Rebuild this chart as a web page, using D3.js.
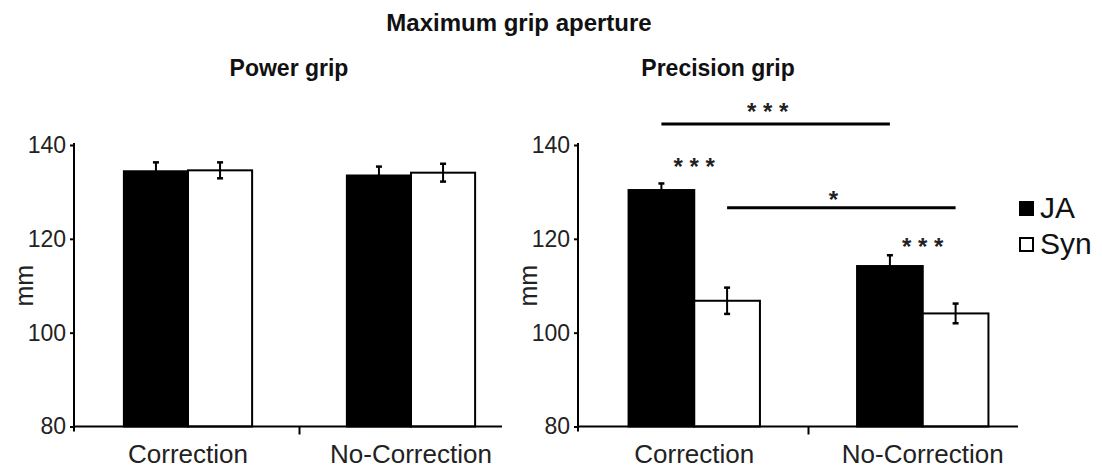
<!DOCTYPE html>
<html>
<head>
<meta charset="utf-8">
<script src="https://cdnjs.cloudflare.com/ajax/libs/d3/7.8.5/d3.min.js"></script>
<style>
  html, body { margin: 0; padding: 0; background: #fff; }
  svg { display: block; }
  text { font-family: "Liberation Sans", Arial, Helvetica, sans-serif; }
</style>
</head>
<body>
<svg id="chart" width="1102" height="470"></svg>
<script>
// ---- data ----
const categories = ["Correction", "No-Correction"];
const series = ["JA", "Syn"];
const yTicks = [80, 100, 120, 140];

const powerJA = [134.4, 133.5];
const powerSyn = [134.6, 134.1];
const powerJAErr = [1.9, 1.9];
const powerSynErr = [1.7, 1.9];

const precJA = [130.4, 114.2];
const precSyn = [106.8, 104.1];
const precJAErr = [1.4, 2.3];
const precSynErr = [2.8, 2.1];

// within-category JA vs Syn stars (precision grip): [category, label, level in mm]
const precPairStars = [["Correction", "* * *", 136.3], ["No-Correction", "* * *", 119.3]];
// between-category brackets (precision grip): [series, label, line level, label level]
const precBrackets = [["JA", "* * *", 144.5, 148.2], ["Syn", "*", 126.6, 129.4]];

const titleMain = "Maximum grip aperture";
const panelTitles = ["Power grip", "Precision grip"];
const yLabel = "mm";

// ---- layout ----
const svg = d3.select("#chart");
const ink = "#111";
const yTop = 145, yBot = 426.5;

const panels = [
  { title: panelTitles[0], ja: powerJA, syn: powerSyn, jaErr: powerJAErr, synErr: powerSynErr,
    axisX: 74, bandStart: 76.5, bandEnd: 522.5, lineEnd: 502, titleX: 289, stars: [], brackets: [] },
  { title: panelTitles[1], ja: precJA, syn: precSyn, jaErr: precJAErr, synErr: precSynErr,
    axisX: 578, bandStart: 580, bandEnd: 1037, lineEnd: 1018, titleX: 718, stars: precPairStars, brackets: precBrackets }
];

const y = d3.scaleLinear().domain([80, 140]).range([yBot, yTop]);

svg.append("text")
  .attr("x", 519).attr("y", 31)
  .attr("text-anchor", "middle")
  .attr("font-size", 24).attr("font-weight", "bold").attr("fill", ink)
  .text(titleMain);

panels.forEach(p => {
  const g = svg.append("g");
  const x = d3.scaleBand().domain(categories).range([p.bandStart, p.bandEnd]).padding(0);
  const groupW = x.bandwidth() * 0.575;
  const xs = d3.scaleBand().domain(series).range([-groupW / 2, groupW / 2]).padding(0);

  // panel title
  g.append("text")
    .attr("x", p.titleX).attr("y", 76)
    .attr("text-anchor", "middle")
    .attr("font-size", 23).attr("font-weight", "bold").attr("fill", ink)
    .text(p.title);

  // bars
  const rows = [];
  categories.forEach((c, i) => {
    rows.push({ c, s: "JA", v: p.ja[i], e: p.jaErr[i] });
    rows.push({ c, s: "Syn", v: p.syn[i], e: p.synErr[i] });
  });
  const cx = d => x(d.c) + x.bandwidth() / 2 + xs(d.s);

  g.selectAll("rect.bar").data(rows).enter().append("rect")
    .attr("class", "bar")
    .attr("x", d => cx(d))
    .attr("y", d => y(d.v))
    .attr("width", xs.bandwidth())
    .attr("height", d => y(80) - y(d.v))
    .attr("fill", d => d.s === "JA" ? "#000" : "#fff")
    .attr("stroke", "#000").attr("stroke-width", 2);

  // error bars
  const eb = g.selectAll("g.err").data(rows).enter().append("g").attr("class", "err");
  const mid = d => cx(d) + xs.bandwidth() / 2;
  eb.append("line")
    .attr("x1", mid).attr("x2", mid)
    .attr("y1", d => y(d.v + d.e)).attr("y2", d => y(d.v - d.e))
    .attr("stroke", "#000").attr("stroke-width", 2);
  [1, -1].forEach(sgn => {
    eb.append("line")
      .attr("x1", d => mid(d) - 3).attr("x2", d => mid(d) + 3)
      .attr("y1", d => y(d.v + sgn * d.e)).attr("y2", d => y(d.v + sgn * d.e))
      .attr("stroke", "#000").attr("stroke-width", 2.5);
  });

  // y axis
  const ya = g.append("g").attr("transform", `translate(${p.axisX},0)`)
    .call(d3.axisLeft(y).tickValues(yTicks).tickSize(4).tickSizeOuter(0).tickPadding(4));
  ya.select(".domain").remove();
  ya.selectAll(".tick line").attr("stroke", "#000").attr("stroke-width", 2);
  ya.selectAll(".tick text")
    .attr("font-size", 23).attr("fill", "#222")
    .attr("font-family", "Liberation Sans, Arial, sans-serif");
  g.append("line")
    .attr("x1", p.axisX).attr("x2", p.axisX)
    .attr("y1", y(140) - 2).attr("y2", y(80) + 5)
    .attr("stroke", "#000").attr("stroke-width", 2);

  // y label
  g.append("text")
    .attr("transform", `translate(${p.axisX - 41},${(yTop + yBot) / 2}) rotate(-90)`)
    .attr("text-anchor", "middle")
    .attr("font-size", 25).attr("fill", "#222")
    .text(yLabel);

  // x baseline and separator tick
  g.append("line")
    .attr("x1", p.axisX).attr("x2", p.lineEnd)
    .attr("y1", y(80)).attr("y2", y(80))
    .attr("stroke", "#000").attr("stroke-width", 2);
  const sepX = x(categories[1]);
  g.append("line")
    .attr("x1", sepX).attr("x2", sepX)
    .attr("y1", y(80)).attr("y2", y(80) + 8)
    .attr("stroke", "#000").attr("stroke-width", 2);

  // x labels
  g.selectAll("text.cat").data(categories).enter().append("text")
    .attr("class", "cat")
    .attr("x", c => x(c) + x.bandwidth() / 2)
    .attr("y", 463)
    .attr("text-anchor", "middle")
    .attr("font-size", 26).attr("fill", "#222")
    .text(c => c);

  // significance stars within category
  p.stars.forEach(([c, lab, lvl]) => {
    g.append("text")
      .attr("x", x(c) + x.bandwidth() / 2)
      .attr("y", y(lvl) + 13)
      .attr("text-anchor", "middle")
      .attr("font-size", 24).attr("font-weight", "bold").attr("fill", "#222")
      .text(lab);
  });

  // brackets between categories
  p.brackets.forEach(([s, lab, lvl, labLvl]) => {
    const x1 = x(categories[0]) + x.bandwidth() / 2 + xs(s) + xs.bandwidth() / 2;
    const x2 = x(categories[1]) + x.bandwidth() / 2 + xs(s) + xs.bandwidth() / 2;
    g.append("line")
      .attr("x1", x1).attr("x2", x2)
      .attr("y1", y(lvl)).attr("y2", y(lvl))
      .attr("stroke", "#000").attr("stroke-width", 3);
    g.append("text")
      .attr("x", (x1 + x2) / 2 - 8)
      .attr("y", y(labLvl) + 13)
      .attr("text-anchor", "middle")
      .attr("font-size", 24).attr("font-weight", "bold").attr("fill", "#222")
      .text(lab);
  });
});

// legend
const legend = svg.append("g");
const legendRows = [["JA", 218], ["Syn", 254]];
legend.selectAll("rect").data(series).enter().append("rect")
  .attr("x", 1020)
  .attr("y", (d, i) => legendRows[i][1] - 16)
  .attr("width", 13).attr("height", 13)
  .attr("fill", d => d === "JA" ? "#000" : "#fff")
  .attr("stroke", "#000").attr("stroke-width", 2);
legend.selectAll("text").data(series).enter().append("text")
  .attr("x", 1040)
  .attr("y", (d, i) => legendRows[i][1])
  .attr("font-size", 30).attr("fill", "#111")
  .text(d => d);
</script>
</body>
</html>
